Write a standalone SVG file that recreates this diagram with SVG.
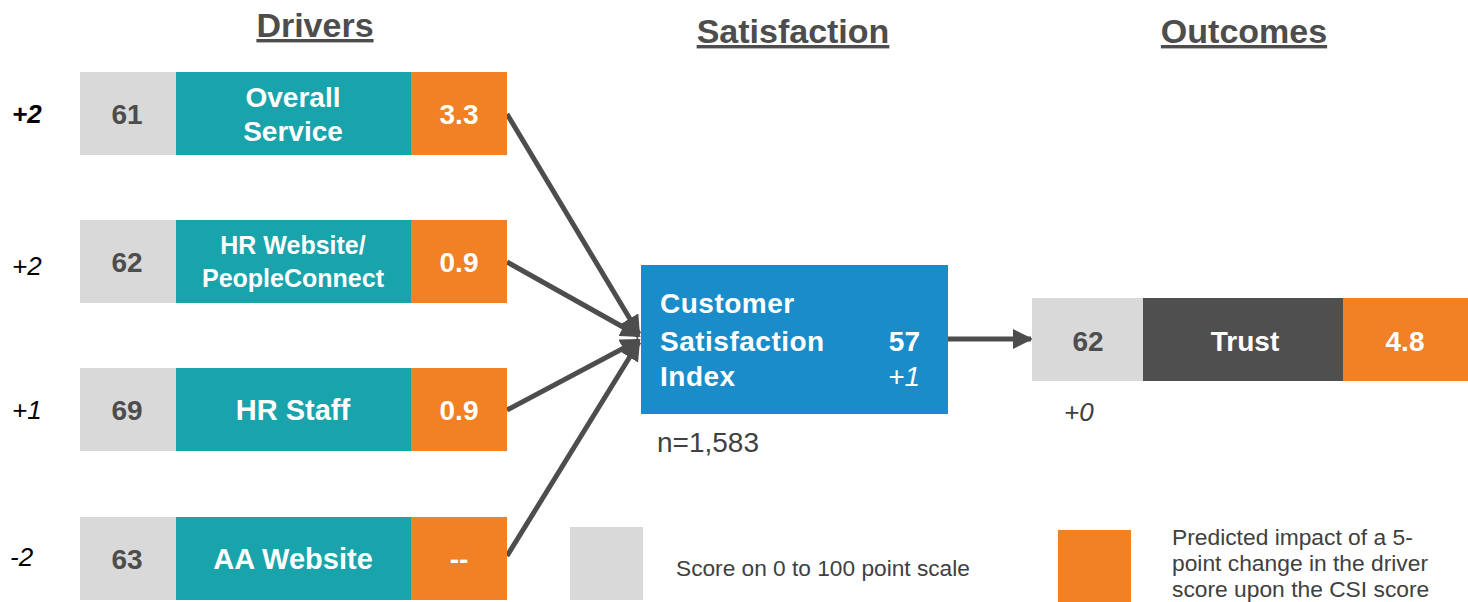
<svg xmlns="http://www.w3.org/2000/svg" width="1468" height="602" viewBox="0 0 1468 602">
  <style>
    .hdr { font-family: "Liberation Sans", Arial, sans-serif; font-weight: bold; font-size: 34px; fill: #4d4d4d; text-anchor: middle; text-decoration: underline; }
    .score { fill: #d9d9d9; }
    .driver { fill: #19a3ab; }
    .impact { fill: #f28024; }
    .num { font-family: "Liberation Sans", Arial, sans-serif; font-weight: bold; font-size: 28px; fill: #4d4d4d; text-anchor: middle; }
    .lbl { font-family: "Liberation Sans", Arial, sans-serif; font-weight: bold; font-size: 28px; fill: #ffffff; text-anchor: middle; }
    .delta { font-family: "Liberation Sans", Arial, sans-serif; font-style: italic; font-size: 26px; fill: #000000; }
    .plain { font-family: "Liberation Sans", Arial, sans-serif; fill: #404040; }
    .conn { stroke: #4d4d4d; stroke-width: 5; fill: none; }
  </style>
  <defs>
    <marker id="arrow" viewBox="0 0 10 10" refX="9" refY="5" markerWidth="4" markerHeight="4" orient="auto" markerUnits="strokeWidth">
      <path d="M0,0 L10,5 L0,10 z" fill="#4d4d4d"/>
    </marker>
  </defs>

  <rect width="1468" height="602" fill="#ffffff"/>

  <!-- column headings -->
  <text class="hdr" x="315" y="37">Drivers</text>
  <text class="hdr" x="793" y="43">Satisfaction</text>
  <text class="hdr" x="1244" y="43">Outcomes</text>

  <!-- connectors -->
  <g id="connectors">
    <line class="conn" x1="507" y1="114" x2="639" y2="334" marker-end="url(#arrow)"/>
    <line class="conn" x1="507" y1="262" x2="639" y2="336" marker-end="url(#arrow)"/>
    <line class="conn" x1="507" y1="410" x2="639" y2="340" marker-end="url(#arrow)"/>
    <line class="conn" x1="507" y1="556" x2="639" y2="342" marker-end="url(#arrow)"/>
    <line class="conn" x1="948" y1="339" x2="1031" y2="339" marker-end="url(#arrow)"/>
  </g>

  <!-- driver rows -->
  <g id="driver-overall-service">
    <text class="delta" x="12" y="123" style="font-weight:bold">+2</text>
    <rect class="score" x="80" y="72" width="96" height="83"/>
    <rect class="driver" x="176" y="72" width="235" height="83"/>
    <rect class="impact" x="411" y="72" width="96" height="83"/>
    <text class="num" x="127" y="124">61</text>
    <text class="lbl" x="293" y="107" font-size="27">Overall</text>
    <text class="lbl" x="293" y="141" font-size="27">Service</text>
    <text class="lbl" x="459" y="124">3.3</text>
  </g>

  <g id="driver-hr-website">
    <text class="delta" x="12" y="275">+2</text>
    <rect class="score" x="80" y="220" width="96" height="83"/>
    <rect class="driver" x="176" y="220" width="235" height="83"/>
    <rect class="impact" x="411" y="220" width="96" height="83"/>
    <text class="num" x="127" y="272">62</text>
    <text class="lbl" x="293" y="254" style="font-size:25px">HR Website/</text>
    <text class="lbl" x="293" y="287" style="font-size:25px">PeopleConnect</text>
    <text class="lbl" x="459" y="272">0.9</text>
  </g>

  <g id="driver-hr-staff">
    <text class="delta" x="12" y="419">+1</text>
    <rect class="score" x="80" y="368" width="96" height="83"/>
    <rect class="driver" x="176" y="368" width="235" height="83"/>
    <rect class="impact" x="411" y="368" width="96" height="83"/>
    <text class="num" x="127" y="420">69</text>
    <text class="lbl" x="293" y="420" style="font-size:29px">HR Staff</text>
    <text class="lbl" x="459" y="420">0.9</text>
  </g>

  <g id="driver-aa-website">
    <text class="delta" x="10" y="566">-2</text>
    <rect class="score" x="80" y="517" width="96" height="83"/>
    <rect class="driver" x="176" y="517" width="235" height="83"/>
    <rect class="impact" x="411" y="517" width="96" height="83"/>
    <text class="num" x="127" y="569">63</text>
    <text class="lbl" x="293" y="569" style="font-size:29px">AA Website</text>
    <text class="lbl" x="459" y="569">--</text>
  </g>

  <!-- customer satisfaction index -->
  <g id="csi">
    <rect x="641" y="265" width="307" height="149" fill="#1a8cca"/>
    <text class="lbl" x="660" y="313" style="text-anchor:start;letter-spacing:0.5px">Customer</text>
    <text class="lbl" x="660" y="351" style="text-anchor:start;letter-spacing:0.5px">Satisfaction</text>
    <text class="lbl" x="660" y="386" style="text-anchor:start;letter-spacing:0.5px">Index</text>
    <text class="lbl" x="920" y="351" style="text-anchor:end">57</text>
    <text class="lbl" x="920" y="386" style="text-anchor:end;font-weight:normal;font-style:italic">+1</text>
    <text class="plain" x="657" y="452" font-size="28">n=1,583</text>
  </g>

  <!-- outcome -->
  <g id="outcome-trust">
    <rect class="score" x="1032" y="298" width="111" height="83"/>
    <rect x="1143" y="298" width="200" height="83" fill="#4f4f4f"/>
    <rect class="impact" x="1343" y="298" width="125" height="83"/>
    <text class="num" x="1088" y="351">62</text>
    <text class="lbl" x="1245" y="351">Trust</text>
    <text class="lbl" x="1405" y="351">4.8</text>
    <text class="delta" x="1064" y="421" style="fill:#404040">+0</text>
  </g>

  <!-- legend -->
  <g id="legend">
    <rect class="score" x="570" y="527" width="73" height="73"/>
    <text class="plain" x="676" y="576" font-size="22.7">Score on 0 to 100 point scale</text>
    <rect class="impact" x="1058" y="530" width="73" height="72"/>
    <text class="plain" x="1172" y="545" font-size="22.8">Predicted impact of a 5-</text>
    <text class="plain" x="1172" y="571" font-size="22.8">point change in the driver</text>
    <text class="plain" x="1172" y="597" font-size="22.8">score upon the CSI score</text>
  </g>
</svg>
